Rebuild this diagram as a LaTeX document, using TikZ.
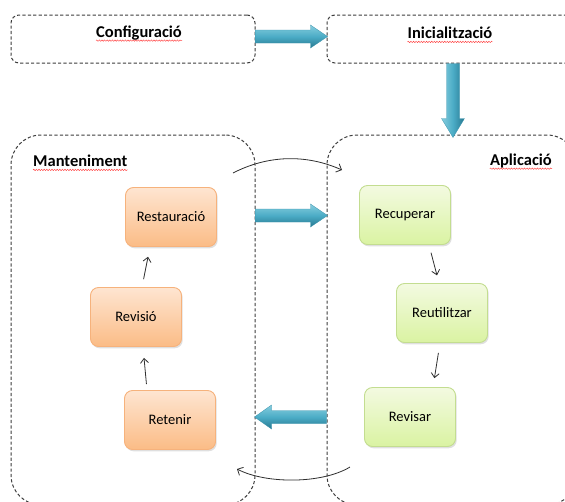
\documentclass[tikz,border=0pt]{standalone}
\usepackage{fontspec}
\setmainfont{Carlito}
\usetikzlibrary{arrows.meta,shadows,decorations.pathmorphing,calc}

\definecolor{framegray}{HTML}{3C3C3C}
\definecolor{orangetop}{HTML}{FEE5D1}
\definecolor{orangebot}{HTML}{FBBC86}
\definecolor{orangeline}{HTML}{F6B27C}
\definecolor{greentop}{HTML}{F3FAE1}
\definecolor{greenbot}{HTML}{DAF3A2}
\definecolor{greenline}{HTML}{C3DD90}
\definecolor{teallight}{HTML}{86CDDE}
\definecolor{tealmid}{HTML}{4BACC6}
\definecolor{tealdark}{HTML}{277890}
\definecolor{tealedge}{HTML}{3A93AC}
\definecolor{inkgray}{HTML}{2E2E2E}

\begin{document}
\begin{tikzpicture}[x=1pt,y=-1pt,
  dashframe/.style={draw=framegray, line width=1pt, dash pattern=on 3.2pt off 2.2pt},
  phasebox/.style={dashframe, rounded corners=8pt, minimum height=48pt},
  bigbox/.style={dashframe, rounded corners=30pt, minimum height=370pt},
  heading/.style={font=\fontsize{16.5}{18}\selectfont\bfseries, inner sep=0pt, text=black},
  spell/.style={draw=red!75, line width=0.45pt, decorate,
    decoration={snake, amplitude=0.7pt, segment length=2.6pt}},
  stage/.style={rounded corners=8pt, minimum width=91pt, minimum height=59pt,
    line width=0.9pt, font=\fontsize{14.5}{16}\selectfont, text=black,
    drop shadow={shadow xshift=1.2pt, shadow yshift=-1.8pt, opacity=0.25}},
  maintbox/.style={stage, draw=orangeline, top color=orangetop, bottom color=orangebot},
  applybox/.style={stage, draw=greenline, top color=greentop, bottom color=greenbot},
  thinarrow/.style={draw=inkgray, line width=0.8pt, -{Straight Barb[length=4.5pt,width=8pt]}},
  curvearrow/.style={draw=inkgray, line width=0.8pt, -{Straight Barb[length=4.5pt,width=9pt]}},
  blockh/.style={top color=teallight, bottom color=tealdark, middle color=tealmid, draw=tealedge, line width=0.3pt},
  blockv/.style={left color=teallight, right color=tealdark, middle color=tealmid, draw=tealedge, line width=0.3pt}
]
\useasboundingbox (0,0) rectangle (565,501);
\clip (0,0) rectangle (565,501);

% phase frames on top
\node[phasebox, minimum width=244pt] (cfg) at (133,39) {};
\node[phasebox, minimum width=248pt] (init) at (451,39) {};
\node[heading] (cfglbl) at (139,33) {Configuració};
\node[heading] (initlbl) at (450,33) {Inicialització};

% large frames
\node[bigbox, minimum width=244pt] (mant) at (133,320) {};
\node[bigbox, minimum width=250pt] (apl) at (452,320) {};
\node[heading, anchor=west] (mantlbl) at (33,161) {Manteniment};
\node[heading, anchor=east] (apllbl) at (552,161) {Aplicació};

% spell-check underlines
\foreach \l in {cfglbl, initlbl, mantlbl, apllbl}
  \draw[spell] ([yshift=-3.2pt]\l.base west) -- ([yshift=-3.2pt]\l.base east);

% maintenance stages
\node[maintbox] (rest) at (171,217) {Restauració};
\node[maintbox] (revi) at (136,317) {Revisió};
\node[maintbox] (ret)  at (170,420) {Retenir};

% application stages
\node[applybox] (rec) at (405,215) {Recuperar};
\node[applybox] (reu) at (442,313) {Reutilitzar};
\node[applybox] (rvs) at (410,417) {Revisar};

% step arrows
\draw[thinarrow, shorten <=6pt, shorten >=11pt] ([xshift=-23pt]ret.north) -- ([xshift=7pt]revi.south);
\draw[thinarrow, shorten <=8pt, shorten >=10pt] ([xshift=6pt]revi.north) -- ([xshift=-21pt]rest.south);
\draw[thinarrow, shorten <=8pt, shorten >=8pt] ([xshift=24pt]rec.south) -- ([xshift=-3pt]reu.north);
\draw[thinarrow, shorten <=10pt, shorten >=9pt] ([xshift=-2pt]reu.south) -- ([xshift=23pt]rvs.north);

% cycle arcs between the two frames
\coordinate (arcA) at (233,173);
\coordinate (arcB) at (342,170);
\coordinate (arcC) at (350,467);
\coordinate (arcD) at (237,469);
\draw[curvearrow] (arcA) .. controls (268,155) and (306,154) .. (arcB);
\draw[curvearrow] (arcC) .. controls (322,484) and (266,484) .. (arcD);

% block arrows
\path[blockh] ($(cfg.east)+(0,-2.5)$) ++(0,-6.5) -- ++(55,0) -- ++(0,-5) -- ++(17,11.5)
  -- ++(-17,11.5) -- ++(0,-5) -- ++(-55,0) -- cycle;
\path[blockv] ([xshift=2pt]init.south) ++(-6.5,0) -- ++(0,55) -- ++(-5,0) -- ++(11.5,19)
  -- ++(11.5,-19) -- ++(-5,0) -- ++(0,-55) -- cycle;
\path[blockh] ($(mant.east |- rest.east)+(0,-1.5)$) ++(0,-6.5) -- ++(55,0) -- ++(0,-5) -- ++(17,11.5)
  -- ++(-17,11.5) -- ++(0,-5) -- ++(-55,0) -- cycle;
\path[blockh] ($(apl.west |- ret.west)+(0,-3)$) ++(0,-6.5) -- ++(-55,0) -- ++(0,-5.5) -- ++(-17,12)
  -- ++(17,12) -- ++(0,-5.5) -- ++(55,0) -- cycle;
\end{tikzpicture}
\end{document}
